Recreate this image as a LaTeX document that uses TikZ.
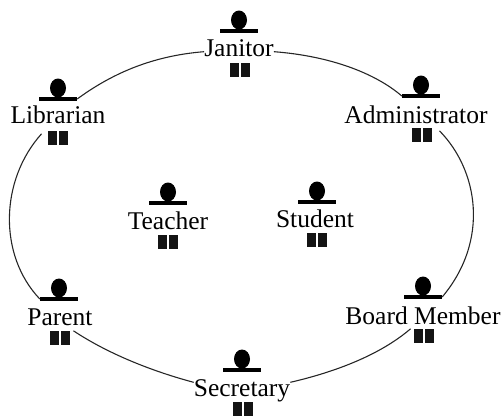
\documentclass[tikz,border=0pt]{standalone}
\usepackage{fontspec}
\setmainfont{Liberation Serif}
\usetikzlibrary{shapes.geometric}
\tikzset{
 x=1pt,y=-1pt,
 rolelabel/.style={inner sep=0pt,anchor=base,font=\fontsize{25.5}{26}\selectfont,text=black},
 head/.style={ellipse,fill=black,minimum width=16pt,minimum height=19pt,inner sep=0pt},
 seat/.style={fill=black,minimum width=38pt,minimum height=3.6pt,inner sep=0pt},
 tick/.style={fill=black!92,minimum width=9.5pt,minimum height=14pt,inner sep=0pt},
 link/.style={draw=black!85,line width=1.1pt}
}
\newcommand{\role}[8]{% id, head x, head y, text x, baseline, squares x, squares y, label
  \node[head] (#1h) at (#2,#3) {};
  \node[seat] (#1b) at (#2,#3+11) {};
  \node[rolelabel] (#1) at (#4,#5) {#8};
  \node[tick] (#1l) at (#6-5.5,#7) {};
  \node[tick] (#1r) at (#6+5.5,#7) {};
}
\begin{document}
\begin{tikzpicture}
\useasboundingbox (0,0) rectangle (502,416);
\role{jan}{239}{20}{239}{56}{240}{70}{Janitor}
\role{lib}{58}{88}{58}{123}{58}{138}{Librarian}
\role{adm}{421}{85}{416}{123}{422}{135}{Administrator}
\role{tea}{168}{192}{168}{229}{168}{242}{Teacher}
\role{stu}{317}{191}{315}{227}{317}{240}{Student}
\role{par}{59}{288}{60}{325}{60}{338}{Parent}
\role{boa}{423}{286}{423}{324}{424}{336}{Board Member}
\role{sec}{242}{359}{242}{396}{243}{409}{Secretary}
\draw[link] ([yshift=-4pt]jan.west) .. controls (150,56) and (110,75) .. (libb.east);
\draw[link] ([yshift=-4pt]jan.east) .. controls (330,56) and (375,73) .. (admb.west);
\draw[link] ([shift={(7pt,-3pt)}]admr.north east) .. controls (478,170) and (490,240) .. (boab.east);
\draw[link] ([shift={(-6pt,-3pt)}]libl.north west) .. controls (0,180) and (-2,255) .. (parb.west);
\draw[link] ([shift={(3pt,0pt)}]parr.north east) .. controls (110,355) and (155,372) .. ([yshift=8pt]sec.west);
\draw[link] ([yshift=8pt]sec.east) .. controls (335,372) and (380,355) .. ([xshift=-3pt]boal.north west);
\end{tikzpicture}
\end{document}
